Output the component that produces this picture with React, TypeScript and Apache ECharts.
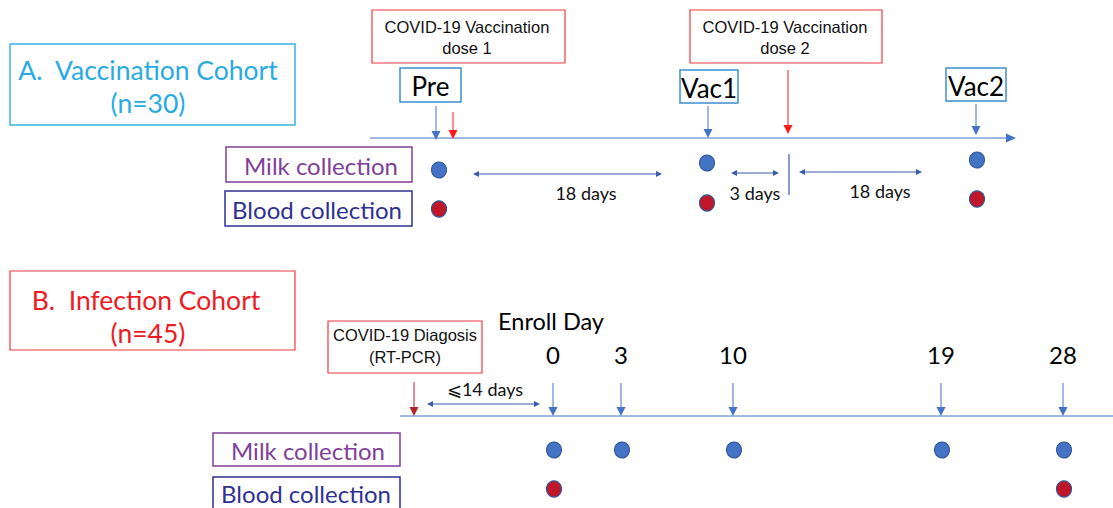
import React, { useEffect, useRef } from "react";
import * as echarts from "echarts";

// ---------- data ----------
const vacTimepoints = ["Pre", "Vac1", "Vac2"];
const vacMilk = [1, 1, 1];
const vacBlood = [1, 1, 1];
const vacIntervals = ["18 days", "3 days", "18 days"];
const vacDoses = ["COVID-19 Vaccination\ndose 1", "COVID-19 Vaccination\ndose 2"];

const infDays = ["0", "3", "10", "19", "28"];
const infMilk = [1, 1, 1, 1, 1];
const infBlood = [1, 0, 0, 0, 1];
const infWindow = "⩽14 days";

// ---------- layout (diagram units = pixels) ----------
const W = 1113;
const H = 508;
const vacX = [439, 707, 977];
const vacMilkY = [170, 163, 160];
const vacBloodY = [209, 203, 199];
const infX = [554, 622, 734, 942, 1064];
const infMilkY = 450;
const infBloodY = 489;

const BLUE = "#4472C4";
const RED = "#FF1A1A";
const DARKRED = "#B5222A";

function line(x1: number, y1: number, x2: number, y2: number, color: string, w = 1) {
  return { type: "line", shape: { x1, y1, x2, y2 }, style: { stroke: color, lineWidth: w }, silent: true };
}
function tri(pts: number[][], color: string) {
  return { type: "polygon", shape: { points: pts }, style: { fill: color }, silent: true };
}
function arrowDown(x: number, y1: number, y2: number, color: string) {
  return [line(x, y1, x, y2 - 8, color, 1), tri([[x - 4.5, y2 - 9], [x + 4.5, y2 - 9], [x, y2]], color)];
}
function dblArrow(x1: number, x2: number, y: number, color: string) {
  return [
    line(x1 + 4, y, x2 - 4, y, color, 1),
    tri([[x1, y], [x1 + 6, y - 3], [x1 + 6, y + 3]], color),
    tri([[x2, y], [x2 - 6, y - 3], [x2 - 6, y + 3]], color),
  ];
}
function box(x: number, y: number, w: number, h: number, color: string, lw = 1.5) {
  return { type: "rect", shape: { x, y, width: w, height: h }, style: { fill: "#fff", stroke: color, lineWidth: lw }, silent: true };
}
function text(x: number, y: number, str: string, size: number, color: string, family = "Lato", align = "center", lh?: number) {
  return {
    type: "text",
    x,
    y,
    style: {
      text: str,
      fontSize: size,
      fontFamily: family,
      fill: color,
      align,
      verticalAlign: "middle",
      lineHeight: lh || size * 1.2,
    },
    silent: true,
  };
}

export default function App() {
  const ref = useRef<HTMLDivElement>(null);
  useEffect(() => {
    document.body.style.margin = "0";
    const chart = echarts.init(ref.current!, null, { renderer: "svg" });

    const g: any[] = [];
    // ---- Panel A ----
    g.push(box(10, 44, 285, 81, "#3AB4E6", 1.5));
    g.push(text(148, 70, "A.  Vaccination Cohort", 26.5, "#29ABE2"));
    g.push(text(148, 103, "(n=30)", 26.5, "#29ABE2"));

    g.push(box(372, 10, 193, 53, "#F0393E", 1.2));
    g.push(text(467, 37, vacDoses[0], 16.5, "#111", "Liberation Sans", "center", 21));
    g.push(box(690, 10, 192, 53, "#F0393E", 1.2));
    g.push(text(785, 37, vacDoses[1], 16.5, "#111", "Liberation Sans", "center", 21));

    // timeline
    g.push(line(370, 138, 1008, 138, BLUE, 1.2));
    g.push(tri([[1006, 133.5], [1016, 138], [1006, 142.5]], BLUE));

    const tpBoxes = [
      [400, 68, 61, 34],
      [680, 70, 58, 33],
      [946, 68, 60, 33],
    ];
    vacTimepoints.forEach((t, i) => {
      const b = tpBoxes[i];
      g.push(box(b[0], b[1], b[2], b[3], "#3B8FD0", 1.5));
      g.push(text(b[0] + b[2] / 2, b[1] + b[3] / 2 + 1, t, 26, "#000", "Lato"));
    });
    g.push(...arrowDown(436, 106, 140, BLUE));
    g.push(...arrowDown(453, 112, 139, RED));
    g.push(...arrowDown(708, 106, 138, BLUE));
    g.push(...arrowDown(788, 70, 134, RED));
    g.push(...arrowDown(976, 104, 135, BLUE));

    // row labels
    g.push(box(226, 147, 186, 35, "#7F3F98", 1.5));
    g.push(text(321, 165, "Milk collection", 24, "#7F3F98"));
    g.push(box(225, 191, 187, 35, "#2E3192", 1.5));
    g.push(text(317, 209, "Blood collection", 24, "#2E3192"));

    // intervals
    g.push(...dblArrow(473, 662, 174, "#3A5BAE"));
    g.push(text(586, 193, vacIntervals[0], 18, "#111"));
    g.push(...dblArrow(731, 779, 173, "#3A5BAE"));
    g.push(text(755, 193, vacIntervals[1], 18, "#111"));
    g.push(line(789, 154, 789, 195, "#3A5BAE", 1.2));
    g.push(...dblArrow(799, 922, 172, "#3A5BAE"));
    g.push(text(880, 191, vacIntervals[2], 18, "#111"));

    // ---- Panel B ----
    g.push(box(10, 271, 285, 79, "#F0393E", 1.2));
    g.push(text(146, 300, "B.  Infection Cohort", 26.5, "#ED1C24"));
    g.push(text(148, 333, "(n=45)", 26.5, "#ED1C24"));

    g.push(box(328, 321, 154, 52, "#F0393E", 1.2));
    g.push(text(405, 346, "COVID-19 Diagosis\n(RT-PCR)", 16.5, "#111", "Liberation Sans", "center", 22));

    g.push(text(551, 321, "Enroll Day", 23.5, "#000"));
    infDays.forEach((d, i) => {
      g.push(text(infX[i] - 1, 354, d, 24, "#000"));
      g.push(...arrowDown(infX[i] - 1, 383, 416, BLUE));
    });
    g.push(line(400, 416, 1113, 416, BLUE, 1.2));
    g.push(...arrowDown(414, 382, 416, DARKRED));
    g.push(text(485, 389, infWindow, 18, "#111"));
    g.push(...dblArrow(427, 540, 404, "#3A5BAE"));

    g.push(box(213, 433, 187, 33, "#7F3F98", 1.5));
    g.push(text(308, 450, "Milk collection", 24, "#7F3F98"));
    g.push(box(213, 477, 187, 40, "#2E3192", 1.5));
    g.push(text(306, 493, "Blood collection", 24, "#2E3192"));

    const milkPts: number[][] = [];
    const bloodPts: number[][] = [];
    vacTimepoints.forEach((_, i) => {
      if (vacMilk[i]) milkPts.push([vacX[i], vacMilkY[i]]);
      if (vacBlood[i]) bloodPts.push([vacX[i], vacBloodY[i]]);
    });
    infDays.forEach((_, i) => {
      if (infMilk[i]) milkPts.push([infX[i], infMilkY]);
      if (infBlood[i]) bloodPts.push([infX[i], infBloodY]);
    });

    chart.setOption({
      animation: false,
      grid: { left: 0, right: 0, top: 0, bottom: 0 },
      xAxis: { type: "value", min: 0, max: W, show: false },
      yAxis: { type: "value", min: 0, max: H, inverse: true, show: false },
      series: [
        {
          name: "Milk collection",
          type: "scatter",
          data: milkPts,
          symbolSize: [15, 16],
          itemStyle: { color: "#4472C4", borderColor: "#2F5597", borderWidth: 1, opacity: 1 },
          z: 10,
        },
        {
          name: "Blood collection",
          type: "scatter",
          data: bloodPts,
          symbolSize: [15, 16],
          itemStyle: { color: "#C0182A", borderColor: "#2F5597", borderWidth: 1.2, opacity: 1 },
          z: 10,
        },
      ],
      graphic: g,
    });
    return () => chart.dispose();
  }, []);
  return <div ref={ref} style={{ width: W, height: H }} />;
}
